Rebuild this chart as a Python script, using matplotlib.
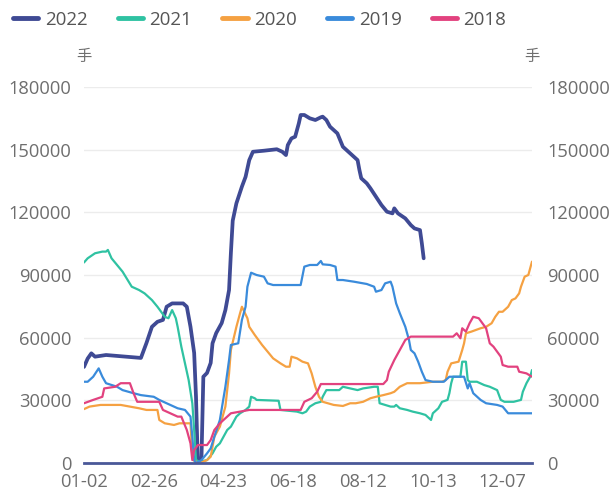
import matplotlib
matplotlib.use("Agg")
import matplotlib.pyplot as plt
from matplotlib.lines import Line2D

plt.rcParams["font.family"] = ["Open Sans", "Noto Sans CJK SC", "DejaVu Sans"]

# trading-day index (0 = 01-02) and open interest, hands
tick_pos = [0, 38, 76, 114, 152, 190, 228]
tick_labels = ["01-02", "02-26", "04-23", "06-18", "08-12", "10-13", "12-07"]
n_days = 245

x_2022 = [0, 2, 4, 6, 12, 31, 34, 37, 40, 43, 45, 48, 54, 56, 58, 60, 61, 62, 63, 64,
          65, 67, 69, 70, 72, 75, 77, 79, 80, 81, 83, 86, 88, 90, 92, 98, 105, 108, 110, 111,
          113, 115, 117, 118, 120, 123, 126, 129, 130, 132, 134, 138, 141, 144, 147, 149, 150, 151, 154, 156,
          159, 162, 165, 168, 169, 171, 175, 178, 180, 183, 184, 185]
y_2022 = [46000, 50000, 52500, 50900, 51700, 50300, 57400, 65200, 67600, 68500, 74800, 76400, 76400, 74800, 65200, 52700, 31700, 0, 0, 3000,
          41300, 43100, 47900, 57300, 62200, 67000, 73200, 82800, 100500, 116000, 124300, 132300, 137000, 145000, 149000, 149500, 150200, 149000, 147400, 152200,
          155400, 156200, 162600, 166600, 166600, 165000, 164200, 165500, 165800, 164200, 161000, 157800, 151400, 149000, 146600, 145000, 140300, 136300, 133900, 131500,
          127500, 123500, 120300, 119500, 121900, 119500, 117100, 113900, 112300, 111500, 105200, 98000]

x_2021 = [0, 2, 6, 10, 12, 13, 15, 18, 21, 26, 30, 33, 37, 40, 44, 46, 48, 50, 51, 53,
          55, 57, 59, 60, 61, 63, 67, 70, 72, 74, 76, 78, 80, 83, 85, 88, 90, 91, 93, 94,
          106, 107, 116, 119, 121, 123, 126, 129, 130, 132, 139, 141, 145, 149, 152, 158, 160, 161, 164, 167,
          169, 170, 172, 176, 179, 183, 186, 189, 190, 193, 195, 198, 199, 200, 201, 205, 206, 208, 209, 210,
          214, 218, 221, 225, 227, 229, 234, 238, 239, 241, 243, 244]
y_2021 = [96000, 98000, 100400, 101200, 101200, 102000, 98000, 94800, 91600, 84400, 82800, 81200, 78000, 74800, 70000, 69300, 73200, 69300, 65200, 55700,
          47700, 39700, 28600, 15800, 1400, 600, 1400, 4600, 7800, 9400, 12600, 15800, 17400, 22200, 23800, 25400, 27000, 31700, 31000, 30200,
          29800, 25400, 24600, 23800, 24600, 27000, 28600, 29300, 31700, 34900, 34900, 36500, 35700, 34900, 35700, 36500, 36500, 28600, 27800, 27000,
          27000, 27800, 26200, 25400, 24600, 23800, 23000, 20600, 23800, 26200, 29300, 30200, 33400, 38200, 41300, 41300, 48500, 48500, 39700, 38900,
          38900, 37300, 36500, 34900, 30200, 29300, 29300, 30200, 34100, 38200, 41300, 44500]

x_2020 = [0, 3, 9, 20, 25, 30, 34, 40, 41, 44, 49, 52, 58, 59, 60, 63, 67, 69, 71, 74,
          77, 79, 80, 83, 85, 86, 89, 90, 93, 97, 100, 103, 107, 110, 112, 113, 116, 119, 122, 124,
          126, 128, 130, 136, 141, 145, 148, 152, 156, 159, 163, 167, 169, 172, 176, 183, 190, 195, 197, 198,
          200, 204, 206, 207, 208, 211, 216, 219, 222, 224, 226, 228, 231, 233, 235, 237, 238, 240, 242, 244]
y_2020 = [25800, 27000, 27800, 27800, 27000, 26200, 25400, 25400, 20600, 19000, 18200, 19000, 19000, 3000, 1000, 0, 1400, 3000, 12600, 17400,
          27000, 42900, 54100, 65200, 71700, 74800, 69300, 65200, 61300, 56500, 53300, 50100, 47700, 46100, 46100, 50900, 50100, 48500, 47700, 42900,
          36500, 31700, 29300, 27800, 27300, 28600, 28600, 29300, 31000, 31700, 32500, 33400, 34100, 36500, 38200, 38200, 38900, 38900, 39700, 43700,
          47700, 48500, 54100, 57300, 62100, 62900, 64500, 65200, 66900, 70000, 72400, 72400, 74800, 78000, 78800, 81200, 84400, 89200, 90000, 96400]

x_2019 = [0, 2, 5, 8, 10, 12, 18, 21, 27, 31, 38, 41, 45, 49, 51, 55, 58, 59, 60, 61,
          64, 67, 69, 71, 74, 77, 79, 80, 84, 86, 88, 89, 91, 94, 98, 100, 103, 118, 120, 123,
          127, 129, 130, 134, 137, 138, 141, 147, 154, 158, 159, 162, 164, 167, 168, 170, 172, 175, 177, 178,
          180, 182, 184, 186, 190, 196, 199, 207, 209, 210, 212, 216, 219, 225, 228, 231, 244]
y_2019 = [38900, 38900, 41300, 45300, 41300, 38200, 36500, 34900, 33400, 32500, 31700, 30200, 28600, 27000, 26200, 25400, 22200, 12600, 1400, 0,
          1400, 4600, 7000, 12600, 20600, 36500, 49300, 56500, 57300, 68500, 74800, 84400, 91100, 90000, 89200, 86000, 85200, 85200, 94000, 94800,
          94800, 96700, 95100, 94800, 94000, 87600, 87600, 86800, 85700, 84400, 82000, 82800, 86000, 86800, 84400, 76400, 71700, 65200, 58900, 54100,
          52500, 48500, 43700, 39700, 38900, 38900, 41300, 41300, 35700, 38200, 33400, 30200, 28600, 27800, 27000, 23800, 23800]

x_2018 = [0, 5, 10, 11, 17, 20, 25, 27, 29, 34, 41, 43, 47, 51, 53, 56, 58, 59, 60, 62,
          67, 69, 71, 74, 78, 80, 85, 90, 118, 120, 124, 127, 129, 134, 163, 165, 166, 169, 171, 173,
          175, 178, 201, 203, 205, 206, 208, 210, 212, 215, 217, 219, 221, 223, 225, 227, 228, 231, 236, 237,
          241, 244]
y_2018 = [28600, 30200, 31700, 35700, 36500, 38200, 38200, 33400, 29300, 29300, 29300, 25400, 23800, 22200, 22200, 15800, 9400, 1400, 6200, 8600,
          8600, 11000, 15800, 19000, 22200, 23800, 24600, 25400, 25400, 29300, 31000, 34100, 37800, 37800, 37800, 39700, 43700, 49300, 52500, 55700,
          58900, 60500, 60500, 62100, 59700, 64500, 62900, 66900, 70000, 69300, 66900, 64500, 57300, 55700, 53300, 50900, 46900, 46100, 46100, 43700,
          42900, 41300]

series = [
    ("2022", x_2022, y_2022, "#3f4a94", 2.7),
    ("2021", x_2021, y_2021, "#2fc2a2", 1.6),
    ("2020", x_2020, y_2020, "#f5a142", 1.6),
    ("2019", x_2019, y_2019, "#3a8bdb", 1.6),
    ("2018", x_2018, y_2018, "#e2427f", 1.6),
]

text_color = "#6e6e6e"
fig = plt.figure(figsize=(6.11, 4.90), dpi=100)
ax = fig.add_axes([84 / 611, 1 - 463 / 490, 448 / 611, 376 / 490])

for name, xs, ys, color, lw in series:
    ax.plot(xs, ys, color=color, lw=lw, solid_joinstyle="round", solid_capstyle="round", zorder=3)

ax.set_xlim(0, n_days - 1)
ax.set_ylim(0, 180000)
yticks = list(range(0, 180001, 30000))
ax.set_yticks(yticks)
ax.set_yticklabels([str(v) for v in yticks])
ax.set_xticks(tick_pos)
ax.set_xticklabels(tick_labels)
ax.grid(axis="y", color="#ececec", lw=1.0)
ax.set_axisbelow(True)
for side in ["top", "left", "right"]:
    ax.spines[side].set_visible(False)
ax.spines["bottom"].set_color("#4a5898")
ax.spines["bottom"].set_linewidth(2.0)
ax.spines["bottom"].set_zorder(4)
ax.tick_params(axis="both", length=0, labelsize=13.2, colors=text_color)
ax.tick_params(axis="y", pad=9)
ax.tick_params(axis="x", pad=7)

ax2 = ax.twinx()
ax2.set_ylim(0, 180000)
ax2.set_yticks(yticks)
ax2.set_yticklabels([str(v) for v in yticks])
for side in ["top", "left", "right", "bottom"]:
    ax2.spines[side].set_visible(False)
ax2.tick_params(axis="y", length=0, labelsize=13.2, colors=text_color, pad=11)

fig.text(84 / 611, 1 - 58 / 490, "手", ha="center", va="center", fontsize=11, color=text_color)
fig.text(532 / 611, 1 - 58 / 490, "手", ha="center", va="center", fontsize=11, color=text_color)

handles = [Line2D([0], [0], color=c, lw=3.5, solid_capstyle="round") for _, _, _, c, _ in series]
fig.legend(handles, [s[0] for s in series], loc="upper left", bbox_to_anchor=(0.0, 1.005),
           ncol=5, frameon=False, fontsize=13.5, handlelength=1.35, handletextpad=0.35,
           columnspacing=1.6, labelcolor="#555555", borderaxespad=0.3)

fig.savefig("out.png", dpi=100)
